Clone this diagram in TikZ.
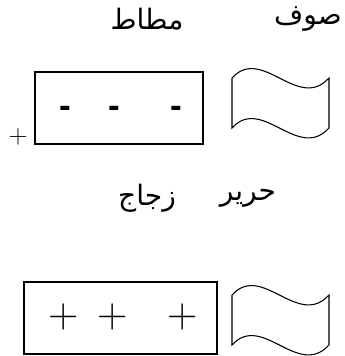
\documentclass[tikz,border=0pt]{standalone}
\usepackage{fontspec}
\setmainfont{Liberation Sans}
\newfontfamily\arabicfont[Script=Arabic]{DejaVu Sans}
\newfontfamily\signfont{Latin Modern Roman}
\TeXXeTstate=1
\usetikzlibrary{positioning}

\begin{document}
\begin{tikzpicture}[x=0.02cm, y=-0.02cm,
  rod/.style={rectangle, draw=black, line width=0.6pt, inner sep=0pt},
  word/.style={font=\fontsize{16}{18}\selectfont\arabicfont, inner sep=0pt},
  minus/.style={font=\fontsize{20}{22}\selectfont\bfseries, inner sep=0pt},
  plus/.style={font=\signfont\fontsize{24}{26}\selectfont, inner sep=0pt},
  cloth/.style={draw=black, line width=0.6pt}
]
\useasboundingbox (0,0) rectangle (345,356);

% upper pair
\node[word] (wool) at (308,19) {\beginR صوف\endR};
\node[word] (rubber) at (147,19) {\beginR مطاط\endR};
\node[rod, minimum width=3.36cm, minimum height=1.44cm] (rubberrod) at (119,108) {};
\node[minus] (m1) at (65,112) {-};
\node[minus] (m2) at (114,112) {-};
\node[minus] (m3) at (176,112) {-};
\node[font=\signfont\fontsize{15}{16}\selectfont, inner sep=0pt] (sgn) at (18,137) {+};

% lower pair
\node[word] (silk) at (248,198) {\beginR حرير\endR};
\node[word] (glass) at (147,198) {\beginR زجاج\endR};
\node[rod, minimum width=3.86cm, minimum height=1.44cm] (glassrod) at (120.5,318) {};
\node[plus] (p1) at (64,317) {+};
\node[plus] (p2) at (113,317) {+};
\node[plus] (p3) at (183,317) {+};

% cloths
\foreach \dy in {0,217} {
  \draw[cloth] (232,78+\dy) .. controls (262,45+\dy) and (298,112+\dy) .. (329,78+\dy)
    -- (329,128+\dy) .. controls (298,162+\dy) and (262,95+\dy) .. (232,128+\dy) -- cycle;
}
\end{tikzpicture}
\end{document}
